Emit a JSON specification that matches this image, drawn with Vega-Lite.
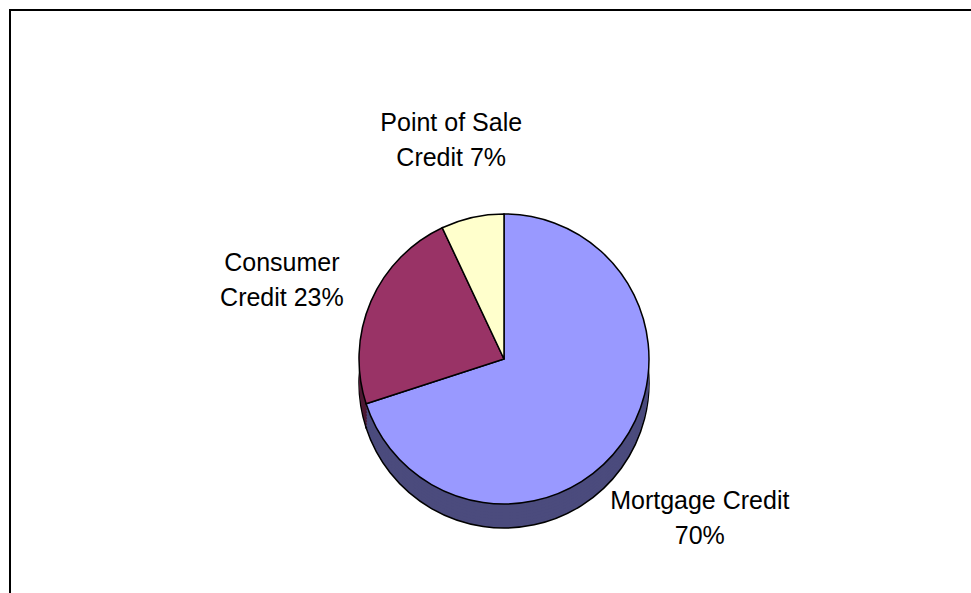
{
  "$schema": "https://vega.github.io/schema/vega-lite/v6.json",
  "width": 988,
  "height": 698,
  "autosize": {"type": "none"},
  "padding": {"left": 10, "top": 10, "right": 0, "bottom": 0},
  "background": "white",
  "view": {"stroke": "black", "strokeWidth": 2, "fill": "white"},
  "config": {"font": "Liberation Sans"},
  "data": {
    "values": [
      {"category": "Mortgage Credit", "share": 70, "label": "Mortgage Credit\n70%"},
      {"category": "Consumer Credit", "share": 23, "label": "Consumer\nCredit 23%"},
      {"category": "Point of Sale Credit", "share": 7, "label": "Point of Sale\nCredit 7%"}
    ]
  },
  "encoding": {
    "theta": {"field": "share", "type": "quantitative", "stack": true},
    "order": {"field": "share", "type": "quantitative", "sort": "descending"}
  },
  "layer": [
    {
      "mark": {"type": "arc", "radius": 145, "yOffset": 24, "stroke": "black", "strokeWidth": 1.5},
      "encoding": {"fill": {"field": "category", "type": "nominal", "legend": null,
        "scale": {"domain": ["Mortgage Credit", "Consumer Credit", "Point of Sale Credit"], "range": ["#4B4B7D", "#4D1933", "#80806A"]}}}
    },
    {"mark": {"type": "arc", "radius": 145, "yOffset": 21}, "encoding": {"fill": {"field": "category", "type": "nominal", "legend": null}}},
    {"mark": {"type": "arc", "radius": 145, "yOffset": 18}, "encoding": {"fill": {"field": "category", "type": "nominal", "legend": null}}},
    {"mark": {"type": "arc", "radius": 145, "yOffset": 15}, "encoding": {"fill": {"field": "category", "type": "nominal", "legend": null}}},
    {"mark": {"type": "arc", "radius": 145, "yOffset": 12}, "encoding": {"fill": {"field": "category", "type": "nominal", "legend": null}}},
    {"mark": {"type": "arc", "radius": 145, "yOffset": 9}, "encoding": {"fill": {"field": "category", "type": "nominal", "legend": null}}},
    {"mark": {"type": "arc", "radius": 145, "yOffset": 6}, "encoding": {"fill": {"field": "category", "type": "nominal", "legend": null}}},
    {"mark": {"type": "arc", "radius": 145, "yOffset": 3}, "encoding": {"fill": {"field": "category", "type": "nominal", "legend": null}}},
    {
      "mark": {"type": "arc", "radius": 145, "stroke": "black", "strokeWidth": 1.5},
      "encoding": {"color": {"field": "category", "type": "nominal", "legend": null,
        "scale": {"domain": ["Mortgage Credit", "Consumer Credit", "Point of Sale Credit"], "range": ["#9999FF", "#993366", "#FFFFCC"]}}}
    },
    {
      "mark": {"type": "text", "radius": 242, "fontSize": 25, "lineBreak": "\n", "lineHeight": 35, "align": "center", "baseline": "middle", "color": "black"},
      "encoding": {"text": {"field": "label", "type": "nominal"}}
    }
  ]
}
